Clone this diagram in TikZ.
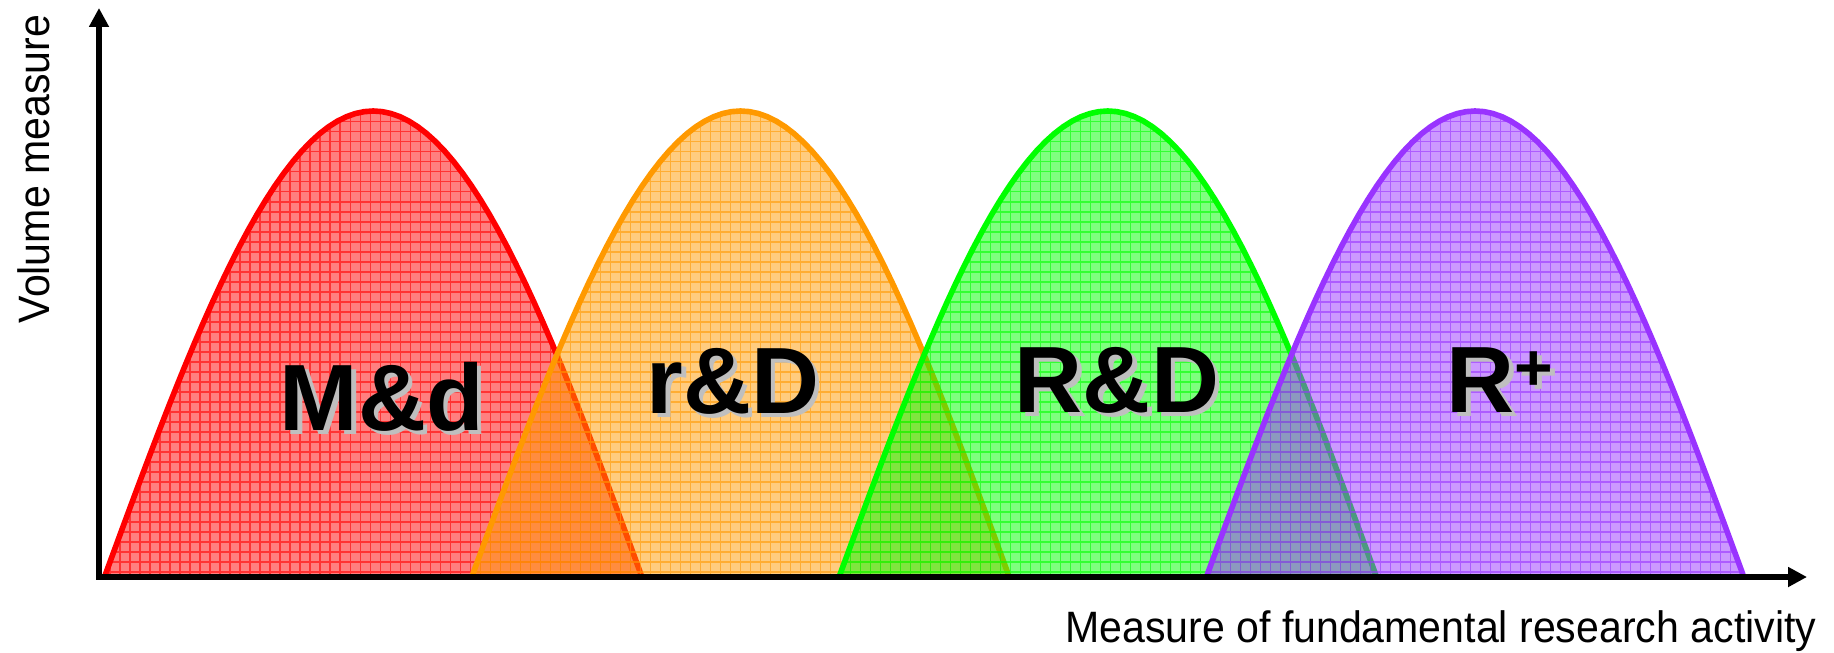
\documentclass[tikz,border=0pt]{standalone}
\usepackage{fontspec}
\setmainfont{Liberation Sans}
\newfontfamily\axisfont[FakeStretch=0.935]{Liberation Sans}
\usetikzlibrary{arrows.meta}

\definecolor{humpred}{HTML}{FF0000}
\definecolor{humporange}{HTML}{FF9900}
\definecolor{humpgreen}{HTML}{00FF00}
\definecolor{humppurple}{HTML}{9933FF}

\begin{document}
\begin{tikzpicture}[
  axis/.style={line width=1.7pt, {Triangle[length=0.19cm, width=0.19cm]}-{Triangle[length=0.19cm, width=0.19cm]}},
  hump/.style={line width=1.6pt},
  humpgrid/.style={line width=0.3pt, opacity=0.6},
  axislabel/.style={font=\axisfont\fontsize{12.5pt}{14pt}\selectfont, inner sep=0pt},
  biglabel/.style={font=\bfseries\fontsize{26.8pt}{30pt}\selectfont, inner sep=0pt, anchor=base},
  shadow/.style={biglabel, text=black!25},
]
  \useasboundingbox (0,0) rectangle (18.34,6.52);

  % --- hump geometry ---
  \def\Base{0.77} \def\Top{4.64} \def\Half{2.68}

  % --- humps, left to right ---
  \foreach \c/\col in {3.732/humpred, 7.405/humporange, 11.078/humpgreen, 14.751/humppurple}{
    \begin{scope}
      \clip plot[domain=-1:1, samples=61] ({\c+\Half*\x}, {\Base+\Top*cos(90*\x)});
      \fill[\col, opacity=0.5] (\c-\Half,\Base) rectangle (\c+\Half,\Base+\Top);
      \draw[\col, humpgrid, step=0.1] (\c-\Half,\Base) grid (\c+\Half,\Base+\Top);
    \end{scope}
    \draw[hump, \col] plot[domain=-1:1, samples=61] ({\c+\Half*\x}, {\Base+\Top*cos(90*\x)});
  }

  % --- axes ---
  \coordinate (O) at (0.99,0.75);
  \coordinate (ytip) at (0.99,6.44);
  \coordinate (xtip) at (18.07,0.75);
  \draw[axis] (ytip) -- (O) -- (xtip);

  \node[axislabel, rotate=90] (ylabel) at (0.34,4.83) {Volume measure};
  \node[axislabel, anchor=base east] (xlabel) at (18.17,0.10) {Measure of fundamental research activity};

  % --- labels with drop shadow ---
  \foreach \name/\x/\y/\txt in {Md/3.82/2.22/M\&d, rD/7.33/2.39/r\&D, RD/11.17/2.40/R\&D,
      Rp/15.00/2.40/{R\raisebox{0.22cm}{\fontsize{18.8pt}{20pt}\selectfont +}}}{
    \node[shadow] (\name-s) at (\x+0.045,\y-0.045) {\txt};
    \node[biglabel] (\name) at (\x,\y) {\txt};
  }
\end{tikzpicture}
\end{document}
